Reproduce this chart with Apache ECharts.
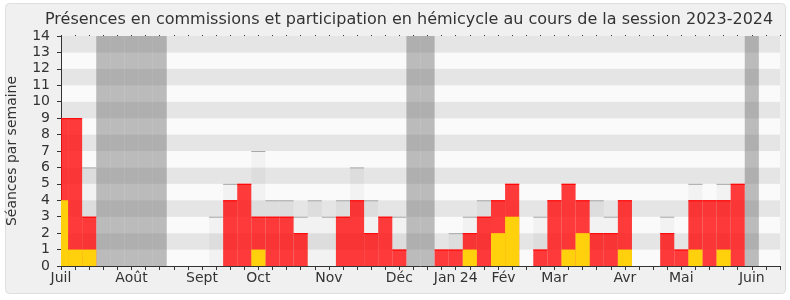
<!DOCTYPE html>
<html>
<head>
<meta charset="utf-8">
<script src="https://cdn.jsdelivr.net/npm/echarts@6/dist/echarts.min.js"></script>
<style>
html,body{margin:0;padding:0;background:#ffffff;}
#chart{width:790px;height:300px;}
</style>
</head>
<body>
<div id="chart"></div>
<script>
// ---- Data (one entry per week, session 2023-2024) ----
const weekCount = 52;
const monthTickIndex = [0, 5, 10, 14, 19, 24, 28, 31, 35, 40, 44, 49];
const monthNames = ['Juil', 'Août', 'Sept', 'Oct', 'Nov', 'Déc', 'Jan 24', 'Fév', 'Mar', 'Avr', 'Mai', 'Juin'];
const yTicks = [0,1,2,3,4,5,6,7,8,9,10,11,12,13,14];
const vacationWeeks = [3, 4, 5, 6, 7, 25, 26, 49];

// total presences (red)
const presences = [9,9,3,0,0,0,0,0,0,0,0,0,4,5,3,3,3,2,0,0,3,4,2,3,1,0,0,1,1,2,3,4,5,0,1,4,5,4,2,2,4,0,0,2,1,4,4,4,5,0,0,0];
// commission presences (yellow)
const commission = [4,1,1,0,0,0,0,0,0,0,0,0,0,0,1,0,0,0,0,0,0,0,0,0,0,0,0,0,0,1,0,2,3,0,0,0,1,2,0,0,1,0,0,0,0,1,0,1,0,0,0,0];
// median of all deputies (light grey, only where visible)
const mediane = [null,null,6,null,null,null,null,null,null,null,null,3,5,null,7,4,4,3,4,3,4,6,4,null,3,null,null,null,2,3,4,null,null,null,3,null,null,null,4,3,null,null,null,3,null,5,null,5,null,null,null,null];

const yMax = 14;

// ---- Build ----
const cats = Array.from({length: weekCount}, (_, i) => String(i));
const monthMap = {};
monthTickIndex.forEach((k, i) => { monthMap[k] = monthNames[i]; });

function pairs(arr) { return arr.map((v, i) => [i, v]); }
const vacationData = cats.map((_, i) => [i, vacationWeeks.indexOf(i) >= 0 ? yMax : null]);

function stepRender(fill, topStroke) {
  return function (params, api) {
    const v = api.value(1);
    if (v == null || isNaN(v) || v <= 0) return null;
    const idx = api.value(0);
    const top = api.coord([idx, v]);
    const base = api.coord([idx, 0]);
    const w = api.size([1, 0])[0];
    const x0 = top[0] - w / 2;
    const children = [{
      type: 'rect',
      shape: {x: x0, y: top[1], width: w, height: base[1] - top[1]},
      style: {fill: fill}
    }];
    if (topStroke) {
      children.push({
        type: 'line',
        shape: {x1: x0, y1: top[1] + 0.5, x2: x0 + w, y2: top[1] + 0.5},
        style: {stroke: topStroke, lineWidth: 1}
      });
    }
    return {type: 'group', children: children};
  };
}

const FONT = 'DejaVu Sans';
const chart = echarts.init(document.getElementById('chart'), null, {renderer: 'canvas'});
chart.setOption({
  backgroundColor: '#ffffff',
  animation: false,
  textStyle: {fontFamily: FONT},
  graphic: [{
    type: 'rect', z: -10, silent: true,
    shape: {x: 5.5, y: 3.5, width: 780, height: 290, r: 4},
    style: {fill: '#f0f0f0', stroke: '#dedede', lineWidth: 1}
  }],
  title: {
    text: 'Présences en commissions et participation en hémicycle au cours de la session 2023-2024',
    left: 40, top: 7,
    textStyle: {fontFamily: FONT, fontSize: 16, fontWeight: 'normal', color: '#333333'}
  },
  grid: {left: 61, right: 10, top: 36, bottom: 34, containLabel: false, outerBoundsMode: 'none'},
  xAxis: [{
    type: 'category', data: cats, boundaryGap: false, position: 'bottom',
    axisLine: {show: true, lineStyle: {color: '#333333', width: 1}},
    axisTick: {show: true, interval: 0, length: 4, lineStyle: {color: '#333333'}},
    axisLabel: {
      interval: 0, margin: 5, fontFamily: FONT, fontSize: 14, color: '#333333',
      formatter: function (val, i) {
        const t = monthMap[i] || '';
        return t === 'Fév' ? '{f|' + t + '}' : t;
      },
      rich: {f: {fontFamily: FONT, fontSize: 14, color: '#333333', padding: [0, 0, 0, 11]}}
    },
    splitLine: {show: false}
  }, {
    type: 'category', data: cats, boundaryGap: false, position: 'top',
    axisLine: {show: false},
    axisTick: {show: true, interval: 0, length: 1, lineStyle: {color: '#333333'}},
    axisLabel: {show: false},
    splitLine: {show: false}
  }],
  yAxis: {
    type: 'value', min: 0, max: yMax, interval: 1,
    name: 'Séances par semaine', nameLocation: 'middle', nameRotate: 90, nameGap: 42,
    nameTextStyle: {fontFamily: FONT, fontSize: 14, color: '#333333'},
    axisLine: {show: true, lineStyle: {color: '#333333', width: 1}},
    axisTick: {show: true, length: 4, lineStyle: {color: '#333333'}},
    axisLabel: {margin: 11, fontFamily: FONT, fontSize: 14, color: '#333333',
      formatter: function (v) { return yTicks.indexOf(v) >= 0 ? String(v) : ''; }},
    splitLine: {show: false},
    splitArea: {show: true, areaStyle: {color: ['#fafafa', '#e5e5e5']}}
  },
  series: [{
    name: 'Vacances', type: 'custom', clip: true, z: 1,
    renderItem: stepRender('rgba(105,105,105,0.43)', null),
    data: vacationData, encode: {x: 0, y: 1}
  }, {
    name: 'Médiane', type: 'custom', clip: true, z: 2,
    renderItem: stepRender('rgba(0,0,0,0.03)', '#a8a8a8'),
    data: pairs(mediane), encode: {x: 0, y: 1}
  }, {
    name: 'Présences', type: 'custom', clip: true, z: 3,
    renderItem: stepRender('rgba(255,10,10,0.8)', '#ff0000'),
    data: pairs(presences), encode: {x: 0, y: 1}
  }, {
    name: 'Commission', type: 'custom', clip: true, z: 4,
    renderItem: stepRender('#ffd10c', null),
    data: pairs(commission), encode: {x: 0, y: 1}
  }]
});
</script>
</body>
</html>
